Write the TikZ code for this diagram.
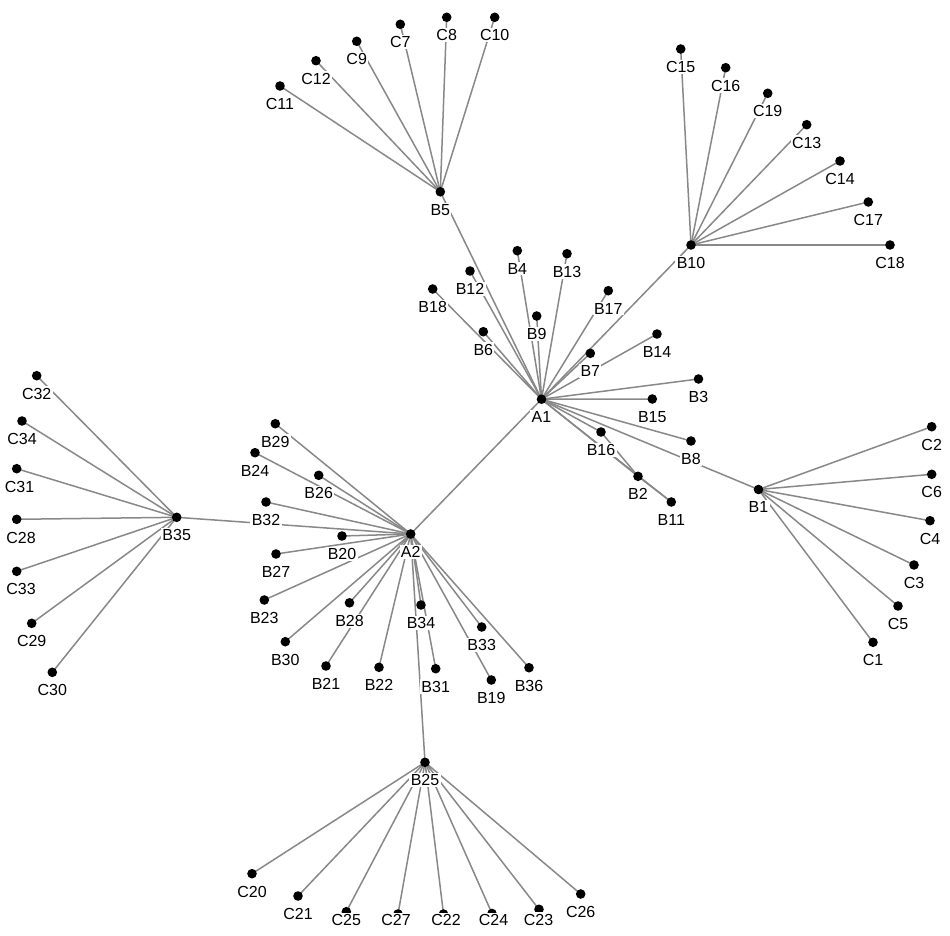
\documentclass[tikz,border=0pt]{standalone}
\usepackage{fontspec}
\setmainfont{Liberation Sans}
\definecolor{edgec}{HTML}{888888}
\tikzset{
  edge/.style={draw=edgec, line width=1.5pt},
  dot/.style={fill=black},
  lbl/.style={inner sep=1.4pt, fill=white, text=black, font=\fontsize{16}{16}\selectfont, anchor=center},
}
\newcommand\lab[1]{\node[lbl] (L#1) at ([yshift=-17.8pt]#1) {#1};}
\newcommand\labat[3]{\node[lbl] (L#3) at (#1,#2) {#3};}
\begin{document}
\begin{tikzpicture}[x=1pt,y=-1pt]
\useasboundingbox (0,0) rectangle (950,936);
% coordinates
\foreach \n/\x/\y in {A1/541.5/399.2, A2/410.7/534,
 B5/440.3/191.8, B12/470/271, B4/517.3/250.7, B13/567/253.7, B18/432.7/289, B6/483.3/331.7,
 B9/536.7/316, B17/608.3/290.7, B7/590.3/353.3, B10/691/245, B14/657/334, B3/698.5/379,
 B15/652.3/399, B16/601/432, B8/691/441, B2/638/476.3, B11/671.3/502, B1/758.5/489.5,
 C2/931.7/426.7, C6/931.7/474.3, C4/930/520.7, C3/914/565, C5/898/606, C1/873/642.3,
 C15/680.7/49, C16/725.7/67.7, C19/767.7/93.3, C13/806.7/124.7, C14/840/161, C17/868.3/202, C18/890/245,
 C11/280/86, C12/316/60.7, C9/356.7/41.3, C7/400.3/24.3, C8/446.7/17.3, C10/494.7/17.3,
 B29/275.3/423.7, B24/255/452.7, B26/318.7/475.3, B32/266/502, B20/342/536, B27/276/554,
 B23/264.3/600, B30/285.3/641.7, B28/349.5/602.8, B21/326/666, B22/379/667.3, B34/421/605,
 B31/435.7/668.7, B33/481.7/627, B19/491.3/680, B36/529/667.7, B25/425/762.3, B35/176.7/517.3,
 C32/36.7/375.7, C34/22/421, C31/16.7/468.7, C28/16.7/519.3, C33/16.7/571.3, C29/31.7/623.3, C30/52.3/672.3,
 C20/252/873.7, C21/298/896, C25/346.3/911.7, C27/398/914, C22/443.5/914, C24/492/913.5, C23/539/909.3, C26/580.7/894}
 {\coordinate (\n) at (\x,\y);}
% edges
\draw[edge] (A1) -- (A2);
\foreach \b in {B5,B12,B4,B13,B18,B6,B9,B17,B7,B10,B14,B3,B15,B16,B8,B2,B11,B1}
  {\draw[edge] (A1) -- (\b);}
\draw[edge] (B16) -- (B2);
\draw[edge] (B2) -- (B11);
\foreach \b in {B29,B24,B26,B32,B20,B27,B23,B30,B28,B21,B22,B34,B31,B33,B19,B36,B25,B35}
  {\draw[edge] (A2) -- (\b);}
\foreach \c in {C2,C6,C4,C3,C5,C1} {\draw[edge] (B1) -- (\c);}
\foreach \c in {C15,C16,C19,C13,C14,C17,C18} {\draw[edge] (B10) -- (\c);}
\foreach \c in {C11,C12,C9,C7,C8,C10} {\draw[edge] (B5) -- (\c);}
\foreach \c in {C32,C34,C31,C28,C33,C29,C30} {\draw[edge] (B35) -- (\c);}
\foreach \c in {C20,C21,C25,C27,C22,C24,C23,C26} {\draw[edge] (B25) -- (\c);}
% dots
\foreach \n in {A1,A2,B5,B12,B4,B13,B18,B6,B9,B17,B7,B10,B14,B3,B15,B16,B8,B2,B11,B1,
 C2,C6,C4,C3,C5,C1,C15,C16,C19,C13,C14,C17,C18,C11,C12,C9,C7,C8,C10,
 B29,B24,B26,B32,B20,B27,B23,B30,B28,B21,B22,B34,B31,B33,B19,B36,B25,B35,
 C32,C34,C31,C28,C33,C29,C30,C20,C21,C25,C27,C22,C24,C23,C26}
 {\fill[dot] (\n) circle (4.8pt);}
% labels
\foreach \n in {A1,A2,B5,B12,B4,B13,B18,B6,B9,B17,B7,B10,B14,B3,B15,B16,B8,B2,B11,B1,
 C2,C6,C4,C3,C5,C1,C15,C16,C19,C13,C14,C17,C18,C11,C12,C9,C7,C8,C10,
 B29,B24,B26,B32,B20,B27,B23,B30,B28,B21,B22,B34,B31,B33,B19,B36,B25,B35,
 C32,C34,C29,C30,C20,C21,C26}
 {\lab{\n}}
\labat{19.5}{486.5}{C31}
\labat{21}{537.5}{C28}
\labat{21}{589}{C33}
\labat{346.3}{920}{C25}
\labat{396}{920}{C27}
\labat{446}{920}{C22}
\labat{493.5}{920}{C24}
\labat{538.5}{919.5}{C23}
\end{tikzpicture}
\end{document}
